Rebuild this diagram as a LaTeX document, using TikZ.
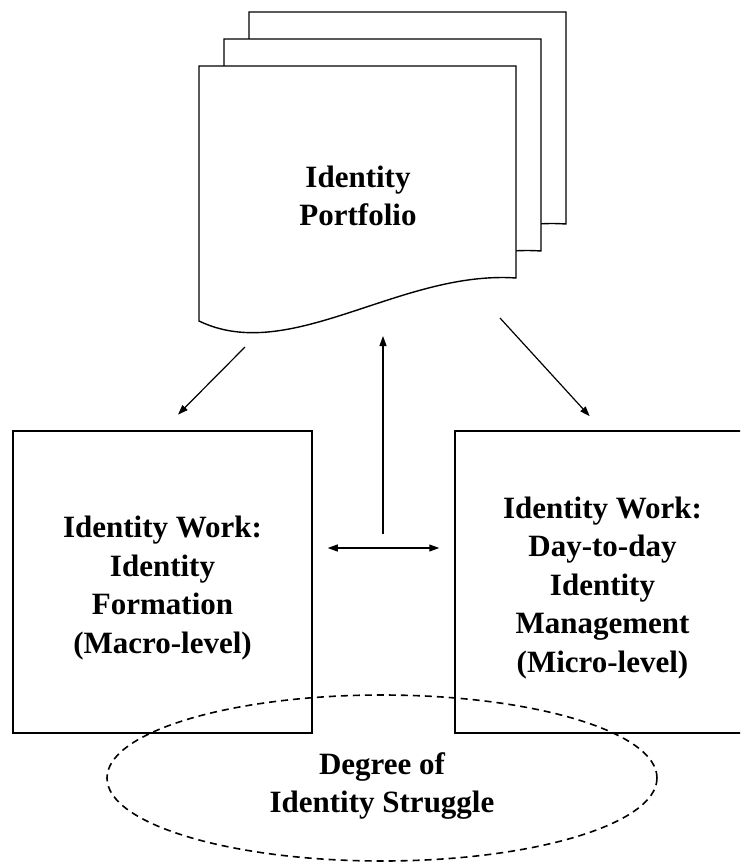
\documentclass[tikz,border=0pt]{standalone}
\usepackage{fontspec}
\setmainfont{Liberation Serif}
\usetikzlibrary{arrows.meta,shapes.geometric}

\begin{document}
\begin{tikzpicture}[x=1pt, y=-1pt,
    font=\fontsize{31}{38.5}\selectfont\bfseries,
    sheet/.style={draw, fill=white, line width=1.4pt},
    workbox/.style={draw, line width=1.5pt, minimum height=302pt, inner sep=0pt},
    link/.style={-{Triangle[length=10pt,width=7pt]}, line width=1.2pt}]
    \clip (0,0) rectangle (740,865);

    % Stack of sheets, drawn back to front
    \foreach \dx/\dy in {50/-54, 25/-27, 0/0}
        \draw[sheet, shift={(\dx,\dy)}] (199,66) -- (516,66) -- (516,278)
            .. controls (400,270) and (290,365) .. (199,321) -- cycle;
    \node[align=center] (portfolio) at (358,196) {Identity\\Portfolio};

    % Two kinds of identity work
    \node[workbox, minimum width=299pt] (formation) at (162.5,582) {};
    \node[workbox, minimum width=295pt] (management) at (602.5,582) {};
    \node[align=center] (formationtext) at ([yshift=-6pt]formation.center)
        {Identity Work:\\Identity\\Formation\\(Macro-level)};
    \node[align=center] (managementtext) at ([yshift=-6pt]management.center)
        {Identity Work:\\Day-to-day\\Identity\\Management\\(Micro-level)};

    % Struggle underneath both
    \node[ellipse, draw, line width=1.6pt, dash pattern=on 7pt off 5pt,
        minimum width=550pt, minimum height=166pt, inner sep=0pt] (struggle) at (382,778) {};
    \node[align=center] (struggletext) at ([yshift=-8pt]struggle.center)
        {Degree of\\Identity Struggle};

    % Connections
    \coordinate (leftfrom) at (245,347);
    \coordinate (rightfrom) at (500,318);
    \coordinate (feedback) at (383,534);
    \coordinate (sheetedge) at (383,336);
    \draw[link, shorten >=22pt] (leftfrom) -- (formation.north);
    \draw[link, shorten >=19pt] (rightfrom) -- (management.north);
    \draw[link, {Triangle[length=10pt,width=7pt]}-{Triangle[length=10pt,width=7pt]},
        shorten <=15pt, shorten >=15pt]
        ([yshift=34pt]formation.east) -- ([yshift=34pt]management.west);
    \draw[link] (feedback) -- (sheetedge);
\end{tikzpicture}
\end{document}
